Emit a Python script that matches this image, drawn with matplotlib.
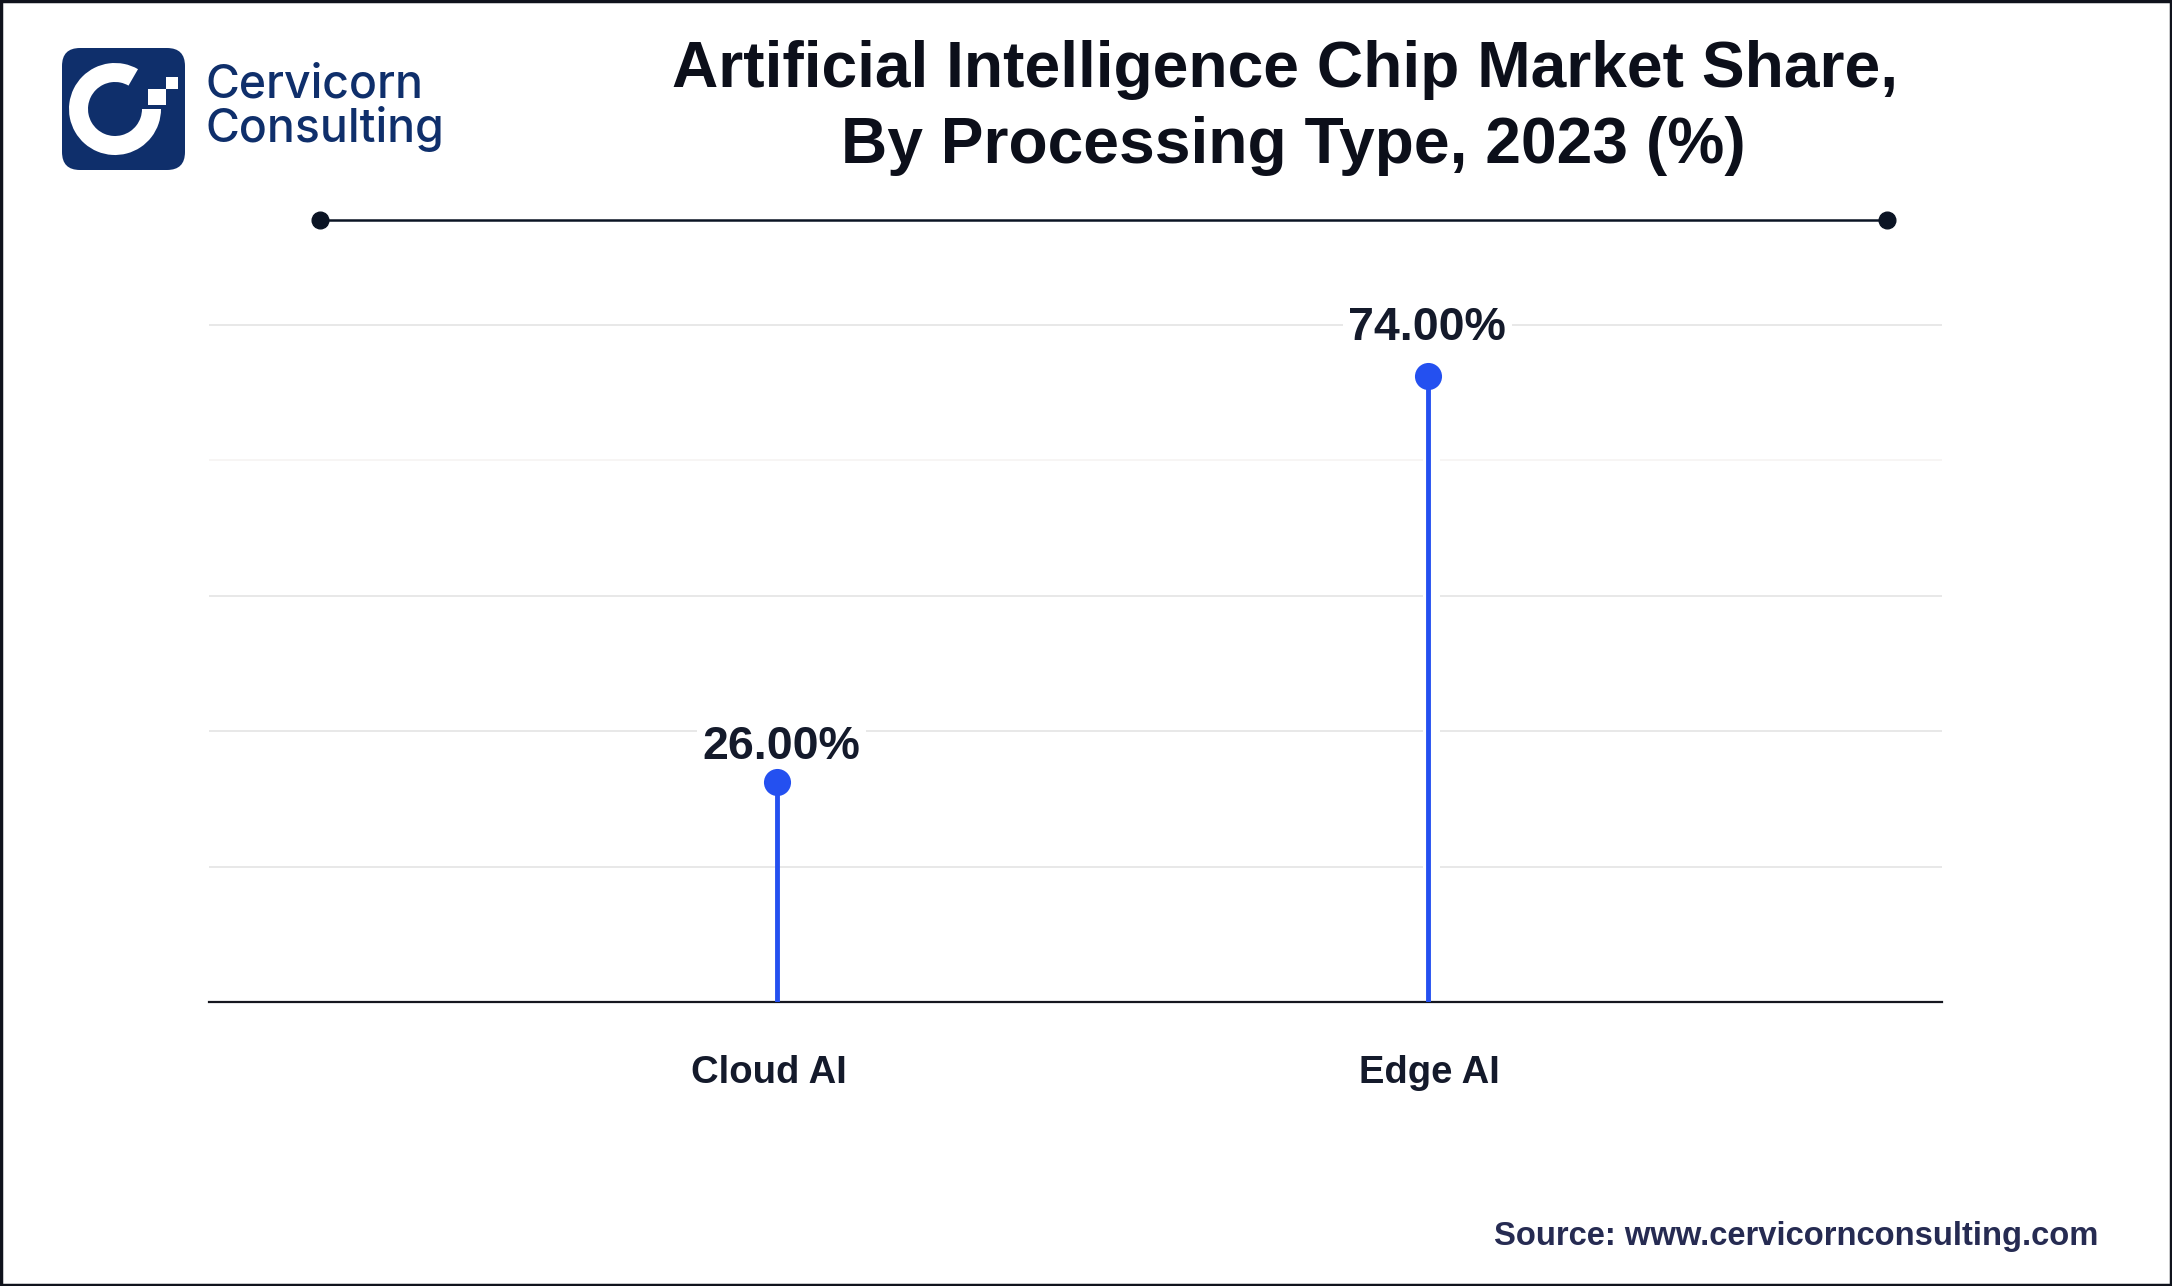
import matplotlib
matplotlib.use("Agg")
import matplotlib.pyplot as plt
from matplotlib.patches import FancyBboxPatch, Wedge, Rectangle

plt.rcParams['font.family'] = ['Liberation Sans', 'DejaVu Sans']

# Chart data
categories = ["Cloud AI", "Edge AI"]
shares = [26.0, 74.0]
grid_values = [16, 32, 48, 64, 80]
title_lines = ["Artificial Intelligence Chip Market Share,", "By Processing Type, 2023 (%)"]
source = "Source: www.cervicornconsulting.com"

W, H = 2172, 1286
DARK = "#141a2b"
BLUE = "#2450f0"
NAVY = "#0f2f6b"

fig = plt.figure(figsize=(W / 100, H / 100), dpi=100, facecolor="white")

# Overlay in pixel coordinates for logo, title and frame
page = fig.add_axes([0, 0, 1, 1])
page.set_xlim(0, W)
page.set_ylim(H, 0)
page.axis("off")

page.add_patch(Rectangle((1, 1), W - 2, H - 2, fill=False, ec="#10131c", lw=2.5))

# Logo
page.add_patch(FancyBboxPatch((62, 48), 123, 122, boxstyle="round,pad=0,rounding_size=18", fc=NAVY, ec="none"))
page.add_patch(Wedge((115, 109), 46, 0, 300, width=19, fc="white", ec="none"))
page.add_patch(Rectangle((148, 89), 18, 16, fc="white", ec="none"))
page.add_patch(Rectangle((166, 77), 12, 12, fc="white", ec="none"))
logo_font = ["Inter", "DejaVu Sans"]
page.text(206, 97, "Cervicorn", fontsize=33.4, color=NAVY, family=logo_font, weight="medium", va="baseline")
page.text(206, 142, "Consulting", fontsize=33.4, color=NAVY, family=logo_font, weight="medium", va="baseline")

# Title (second line sits a little right of centre) and rule below it
page.text(1285, 87, title_lines[0], fontsize=46.2, weight="bold", color="#0c0f1a", ha="center", va="baseline")
page.text(1293, 163, title_lines[1], fontsize=46.2, weight="bold", color="#0c0f1a", ha="center", va="baseline")
page.plot([320, 1887], [219.5, 219.5], color="#0b1424", lw=1.8, solid_capstyle="butt")
page.plot([320, 1887], [219.5, 219.5], ls="none", marker="o", ms=12, color="#0b1424")

page.text(2098, 1237, source, fontsize=23.6, weight="bold", color="#262b52", ha="right", va="center")

# Main chart
ax = fig.add_axes([209 / W, 1 - 1002 / H, (1942 - 209) / W, (1002 - 325) / H])
ax.patch.set_alpha(0)
x = list(range(len(categories)))
ax.set_xlim(-0.8725, 1.79)
ax.set_ylim(0, 80)
for s in ["top", "right", "left"]:
    ax.spines[s].set_visible(False)
ax.spines["bottom"].set_color("#15171f")
ax.spines["bottom"].set_linewidth(1.6)
ax.tick_params(left=False, bottom=False, labelleft=False, labelbottom=False)

grid_colors = ["#e6e6e6", "#e6e6e6", "#e6e6e6", "#f7f5f3", "#e6e6e6"]
ax.hlines(grid_values, -0.8725, 1.79, colors=grid_colors, lw=1.3, zorder=1, clip_on=False)

# gridlines stop short of the Edge AI stem in the original
ax.axvspan(x[1] - 0.008, x[1] + 0.018, color="white", lw=0, zorder=2)

ax.vlines(x, 0, shares, color=BLUE, lw=3.5, zorder=3)
ax.plot(x, shares, ls="none", marker="o", ms=19.5, color=BLUE, mec="none", zorder=6)

label_dx = [3, -0.5]
label_dy = [25, 34.5]
for xi, v, dx, dy in zip(x, shares, label_dx, label_dy):
    ax.annotate(f"{v:.2f}%", (xi, v), xytext=(dx, dy), textcoords="offset points",
                ha="center", va="center", fontsize=33.5, weight="bold", color=DARK,
                bbox=dict(fc="white", ec="none", pad=4), zorder=5)

tick_dx = [-8, 2]
for xi, name, dx in zip(x, categories, tick_dx):
    ax.annotate(name, (xi, 0), xytext=(dx * 0.72, -51), textcoords="offset points",
                ha="center", va="center", fontsize=27.5, weight="bold", color=DARK)

fig.savefig("out.png", dpi=100)
